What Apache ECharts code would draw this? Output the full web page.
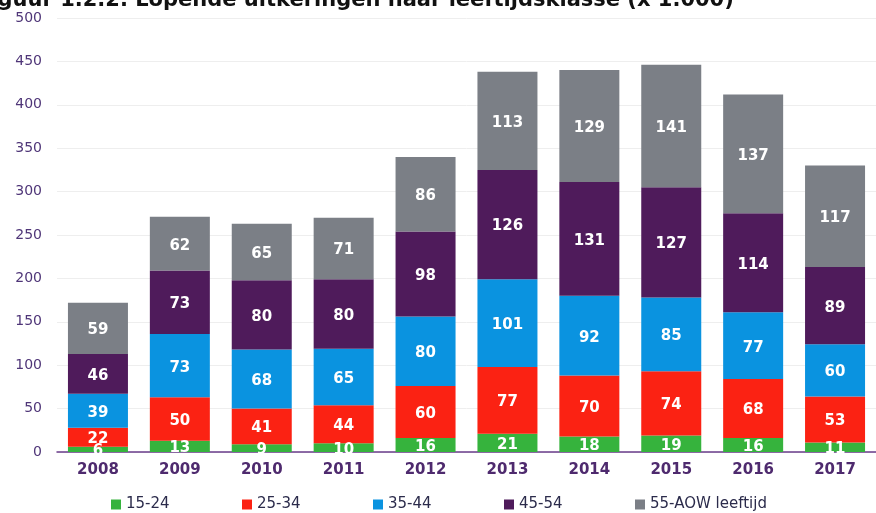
<!DOCTYPE html>
<html>
<head>
<meta charset="utf-8">
<script src="https://cdn.jsdelivr.net/npm/echarts@6/dist/echarts.min.js"></script>
<style>
  html, body { margin: 0; padding: 0; background: #fff; }
  #chart { width: 876px; height: 513px; }
</style>
</head>
<body>
<div id="chart"></div>
<script>
const years = ['2008', '2009', '2010', '2011', '2012', '2013', '2014', '2015', '2016', '2017']
const age1524 = [6, 13, 9, 10, 16, 21, 18, 19, 16, 11]
const age2534 = [22, 50, 41, 44, 60, 77, 70, 74, 68, 53]
const age3544 = [39, 73, 68, 65, 80, 101, 92, 85, 77, 60]
const age4554 = [46, 73, 80, 80, 98, 126, 131, 127, 114, 89]
const age55aow = [59, 62, 65, 71, 86, 113, 129, 141, 137, 117]
const seriesNames = ['15-24', '25-34', '35-44', '45-54', '55-AOW leeftijd']

const font = 'DejaVu Sans'
const colors = ['#36b33d', '#fb2213', '#0a93e0', '#4f1b5b', '#7b7f86']

function makeSeries (name, data, color) {
  return {
    name: name,
    type: 'bar',
    stack: 'total',
    data: data,
    barWidth: 60,
    itemStyle: { color: color },
    label: {
      show: true,
      position: 'inside',
      offset: [0, 2],
      color: '#fff',
      fontFamily: font,
      fontWeight: 'bold',
      fontSize: 15
    }
  }
}

// one legend per series so the items sit on an even pitch
const legends = seriesNames.map((name, i) => ({
  left: 111 + i * 131,
  bottom: 1,
  padding: 0,
  itemWidth: 10,
  itemHeight: 10,
  itemGap: 5,
  icon: 'rect',
  textStyle: { fontFamily: font, fontSize: 15, color: '#2b2b4b' },
  data: [name]
}))

const chart = echarts.init(document.getElementById('chart'))
chart.setOption({
  animation: false,
  title: {
    text: 'Figuur 1.2.2. Lopende uitkeringen naar leeftijdsklasse (x 1.000)',
    left: -24,
    top: -10,
    padding: 0,
    textStyle: { fontFamily: font, fontSize: 21, fontWeight: 'bold', color: '#111' }
  },
  legend: legends,
  grid: { left: 57, right: -11, top: 18, bottom: 61 },
  xAxis: {
    type: 'category',
    data: years,
    axisTick: { show: false },
    axisLine: { lineStyle: { color: '#6a3d8a', width: 1.5 } },
    axisLabel: { margin: 11, fontFamily: font, fontWeight: 'bold', fontSize: 15, color: '#4e2a6e' }
  },
  yAxis: {
    type: 'value',
    min: 0,
    max: 500,
    interval: 50,
    axisLabel: { margin: 15, fontFamily: font, fontSize: 14, color: '#4f3678' },
    splitLine: { lineStyle: { color: '#eeeeee' } }
  },
  series: [
    makeSeries(seriesNames[0], age1524, colors[0]),
    makeSeries(seriesNames[1], age2534, colors[1]),
    makeSeries(seriesNames[2], age3544, colors[2]),
    makeSeries(seriesNames[3], age4554, colors[3]),
    makeSeries(seriesNames[4], age55aow, colors[4])
  ]
})
</script>
</body>
</html>
